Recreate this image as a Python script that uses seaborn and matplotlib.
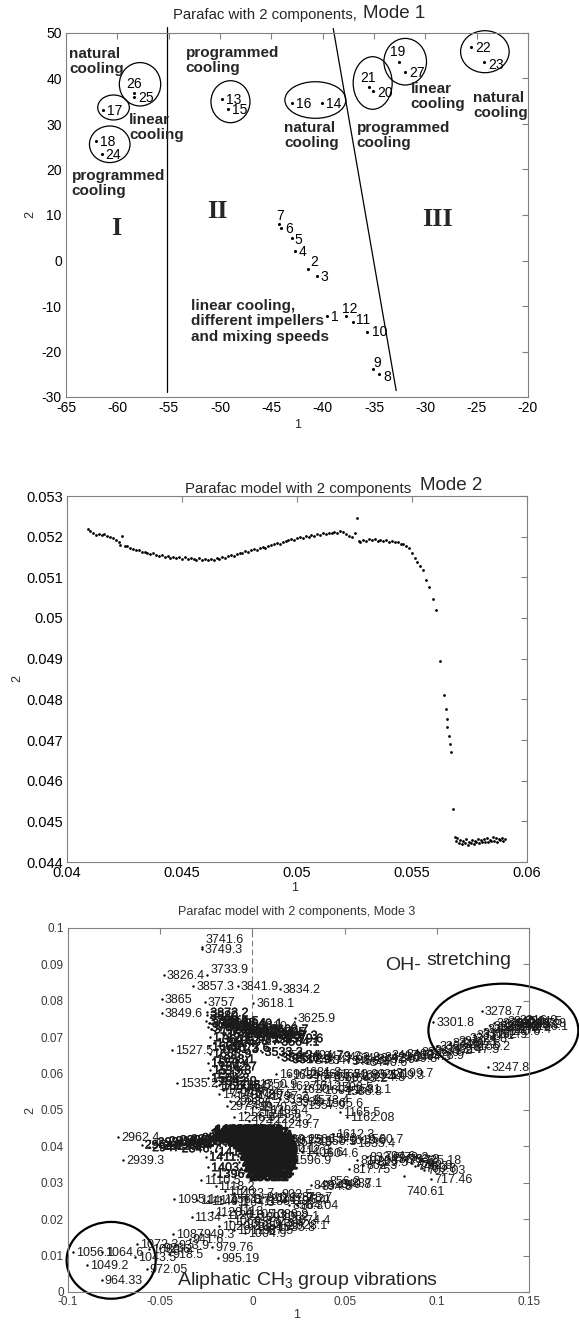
import matplotlib
matplotlib.use("Agg")
import matplotlib.pyplot as plt
import matplotlib.patheffects as pe
from matplotlib.patches import Ellipse
import seaborn as sns

# ======================= DATA =======================
# ---- Mode 1 : sample scores (component 1, component 2) ----
mode1_ids = ["1", "2", "3", "4", "5", "6", "7", "8", "9", "10", "11", "12", "13", "14",
             "15", "16", "17", "18", "19", "20", "21", "22", "23", "24", "25", "26", "27"]
mode1_x = [-39.56, -41.41, -40.59, -42.70, -42.99, -44.07, -44.21, -34.47, -35.11, -35.64,
           -37.03, -37.74, -49.78, -40.10, -49.26, -43.02, -61.40, -62.10, -32.55, -35.14,
           -35.50, -25.56, -24.27, -61.52, -58.35, -58.35, -31.96]
mode1_y = [-12.13, -1.93, -3.41, 2.15, 4.95, 7.21, 8.02, -24.95, -23.91, -15.78,
           -13.45, -12.20, 35.49, 34.68, 33.36, 34.68, 33.08, 26.33, 43.69, 37.32,
           38.07, 46.86, 43.69, 23.34, 36.00, 36.88, 41.49]
# groups circled (centre x, centre y, width, height)
mode1_grp_cx = [-57.79, -60.37, -60.74, -48.98, -40.71, -35.13, -31.96, -24.20]
mode1_grp_cy = [38.73, 33.63, 25.54, 34.90, 35.27, 39.01, 43.69, 45.89]
mode1_grp_w = [4.03, 3.08, 3.95, 3.80, 5.94, 3.80, 4.15, 4.73]
mode1_grp_h = [9.54, 5.49, 8.04, 9.23, 8.04, 11.56, 10.24, 9.23]
# region separators
sep1_x = [-55.2, -55.2]
sep1_y = [-29.0, 51.3]
sep2_x = [-38.97, -32.84]
sep2_y = [51.0, -28.6]
regions = ["I", "II", "III"]
regions_x = [-60.1, -50.25, -28.85]
regions_y = [7.1, 10.7, 9.1]
notes = ["natural\ncooling", "linear\ncooling", "programmed\ncooling", "programmed\ncooling",
         "natural\ncooling", "programmed\ncooling", "linear\ncooling", "natural\ncooling",
         "linear cooling,\ndifferent impellers\nand mixing speeds"]
notes_x = [-64.71, -58.84, -64.45, -53.35, -43.77, -36.70, -31.44, -25.34, -52.79]
notes_y = [46.92, 32.35, 20.04, 47.20, 30.73, 30.73, 39.16, 37.32, -8.53]

# ---- Mode 2 : loadings (component 1, component 2) ----
mode2_pts = [
    (0.04090, 0.05219), (0.04100, 0.05215), (0.04112, 0.05208), (0.04125, 0.05205),
    (0.04138, 0.05207), (0.04150, 0.05204), (0.04163, 0.05206), (0.04176, 0.05201),
    (0.04188, 0.05200), (0.04200, 0.05196), (0.04212, 0.05193), (0.04224, 0.05186),
    (0.04230, 0.05180), (0.04240, 0.05202), (0.04250, 0.05178), (0.04262, 0.05176),
    (0.04275, 0.05172), (0.04288, 0.05170), (0.04300, 0.05168), (0.04312, 0.05166),
    (0.04325, 0.05163), (0.04338, 0.05163), (0.04350, 0.05160), (0.04362, 0.05157),
    (0.04375, 0.05160), (0.04388, 0.05155), (0.04400, 0.05153), (0.04412, 0.05156),
    (0.04425, 0.05150), (0.04438, 0.05152), (0.04450, 0.05148), (0.04462, 0.05151),
    (0.04475, 0.05147), (0.04488, 0.05150), (0.04500, 0.05146), (0.04512, 0.05149),
    (0.04525, 0.05145), (0.04538, 0.05148), (0.04550, 0.05146), (0.04562, 0.05143),
    (0.04575, 0.05147), (0.04588, 0.05142), (0.04600, 0.05145), (0.04612, 0.05143),
    (0.04625, 0.05146), (0.04638, 0.05142), (0.04650, 0.05147), (0.04662, 0.05144),
    (0.04675, 0.05150), (0.04688, 0.05147), (0.04700, 0.05152), (0.04712, 0.05155),
    (0.04725, 0.05153), (0.04738, 0.05158), (0.04750, 0.05161), (0.04762, 0.05159),
    (0.04775, 0.05164), (0.04788, 0.05162), (0.04800, 0.05166), (0.04812, 0.05169),
    (0.04825, 0.05167), (0.04838, 0.05171), (0.04850, 0.05174), (0.04862, 0.05172),
    (0.04875, 0.05177), (0.04888, 0.05179), (0.04900, 0.05182), (0.04912, 0.05184),
    (0.04925, 0.05183), (0.04938, 0.05187), (0.04950, 0.05190), (0.04962, 0.05192),
    (0.04975, 0.05195), (0.04988, 0.05193), (0.05000, 0.05197), (0.05012, 0.05199),
    (0.05025, 0.05197), (0.05038, 0.05201), (0.05050, 0.05200), (0.05062, 0.05204),
    (0.05075, 0.05202), (0.05088, 0.05206), (0.05100, 0.05204), (0.05112, 0.05208),
    (0.05125, 0.05206), (0.05138, 0.05210), (0.05150, 0.05208), (0.05162, 0.05212),
    (0.05175, 0.05209), (0.05188, 0.05215), (0.05200, 0.05211), (0.05212, 0.05206),
    (0.05225, 0.05201), (0.05238, 0.05200), (0.05250, 0.05210), (0.05260, 0.05245),
    (0.05268, 0.05190), (0.05275, 0.05186), (0.05288, 0.05193), (0.05300, 0.05189),
    (0.05312, 0.05194), (0.05325, 0.05191), (0.05338, 0.05195), (0.05350, 0.05190),
    (0.05362, 0.05193), (0.05375, 0.05189), (0.05388, 0.05192), (0.05400, 0.05187),
    (0.05412, 0.05190), (0.05425, 0.05186), (0.05438, 0.05188), (0.05450, 0.05183),
    (0.05462, 0.05181), (0.05475, 0.05177), (0.05488, 0.05173), (0.05500, 0.05160),
    (0.05512, 0.05148), (0.05523, 0.05138), (0.05535, 0.05127), (0.05547, 0.05117),
    (0.05560, 0.05093), (0.05574, 0.05076), (0.05590, 0.05047), (0.05606, 0.05019),
    (0.05622, 0.04894), (0.05638, 0.04810), (0.05646, 0.04777), (0.05650, 0.04752),
    (0.05654, 0.04732), (0.05659, 0.04709), (0.05664, 0.04691), (0.05670, 0.04670),
    (0.05677, 0.04531), (0.05685, 0.04462), (0.05690, 0.04452), (0.05697, 0.04458),
    (0.05703, 0.04447), (0.05710, 0.04455), (0.05716, 0.04444), (0.05722, 0.04452),
    (0.05729, 0.04446), (0.05735, 0.04456), (0.05742, 0.04443), (0.05748, 0.04450),
    (0.05755, 0.04447), (0.05761, 0.04455), (0.05768, 0.04445), (0.05774, 0.04452),
    (0.05780, 0.04449), (0.05787, 0.04457), (0.05793, 0.04446), (0.05800, 0.04453),
    (0.05806, 0.04448), (0.05813, 0.04456), (0.05819, 0.04450), (0.05826, 0.04460),
    (0.05832, 0.04449), (0.05839, 0.04455), (0.05845, 0.04451), (0.05852, 0.04462),
    (0.05858, 0.04452), (0.05865, 0.04458), (0.05871, 0.04450), (0.05878, 0.04457),
    (0.05884, 0.04453), (0.05890, 0.04459), (0.05897, 0.04451), (0.05903, 0.04456),
]

# ---- Mode 3 : spectral loadings labelled with wavenumber ----
m3_isolated = [
    ("3741.6", -0.0274, 0.0947), ("3749.3", -0.0276, 0.0941), ("3826.4", -0.0482, 0.0872),
    ("3733.9", -0.0245, 0.0870), ("3857.3", -0.0320, 0.0842), ("3841.9", -0.0078, 0.0842),
    ("3834.2", 0.0150, 0.0833), ("3865", -0.0490, 0.0806), ("3757", -0.0257, 0.0796),
    ("3618.1", 0.0004, 0.0795), ("3849.6", -0.0490, 0.0766), ("3625.9", 0.0231, 0.0754),
    ("3610.4", 0.0025, 0.0732), ("1527.5", -0.0436, 0.0664), ("1535.2", -0.0409, 0.0573),
    ("3301.8", 0.0980, 0.0741), ("3278.7", 0.1245, 0.0773), ("3247.8", 0.1278, 0.0617),
    ("2962.4", -0.0729, 0.0426), ("2939.3", -0.0702, 0.0362), ("1095.1", -0.0424, 0.0256),
    ("1134", -0.0330, 0.0206), ("1087", -0.0432, 0.0160), ("1072.3", -0.0628, 0.0131),
    ("1056.1", -0.0973, 0.0110), ("1064.6", -0.0816, 0.0110), ("1049.2", -0.0895, 0.0075),
    ("964.33", -0.0817, 0.0032), ("972.05", -0.0573, 0.0064), ("1043.5", -0.0636, 0.0095),
    ("995.19", -0.0187, 0.0093), ("979.76", -0.0219, 0.0123), ("1612.3", 0.0439, 0.0435),
    ("1560.7", 0.0594, 0.0421), ("1581.5", 0.0161, 0.0417), ("1604.6", 0.0350, 0.0381),
    ("1596.9", 0.0204, 0.0362), ("817.75", 0.0526, 0.0339), ("810.03", 0.0569, 0.0362),
    ("725.18", 0.0909, 0.0362), ("702.03", 0.0930, 0.0336), ("717.46", 0.0969, 0.0310),
    ("740.61", 0.0822, 0.0318), ("848.45", 0.0316, 0.0293), ("864.04", 0.0242, 0.0238),
    ("1165.5", 0.0475, 0.0494), ("1162.08", 0.0511, 0.0480),
]
m3_oh_dense = [
    ("3872.2", -0.0245, 0.0768), ("3880", -0.0245, 0.0760), ("3795.4", -0.0250, 0.0745),
    ("3788", -0.0235, 0.0738), ("3764.8", -0.0240, 0.0728), ("3772.5", -0.0225, 0.0722),
    ("3703.1", -0.0200, 0.0735), ("3718.5", -0.0190, 0.0745), ("3695.4", -0.0150, 0.0740),
    ("3680", -0.0130, 0.0728), ("3687.7", -0.0100, 0.0716), ("3664.5", -0.0080, 0.0722),
    ("3656.8", -0.0050, 0.0712), ("3672.2", -0.0160, 0.0710), ("3649.1", -0.0060, 0.0738),
    ("3641.4", 0.0000, 0.0715), ("3633.6", 0.0060, 0.0708), ("3602.7", 0.0080, 0.0722),
    ("3595", 0.0120, 0.0715), ("3587.3", 0.0130, 0.0705), ("3579.6", 0.0160, 0.0697),
    ("3571.8", -0.0020, 0.0700), ("3564.1", 0.0140, 0.0688), ("3556.4", 0.0050, 0.0695),
    ("3548.7", -0.0080, 0.0690), ("3541", -0.0180, 0.0695), ("1712.1", -0.0230, 0.0700),
    ("1704.4", -0.0210, 0.0685), ("1689", -0.0235, 0.0675), ("1681.3", -0.0190, 0.0668),
    ("1673.6", -0.0130, 0.0672), ("1665.9", -0.0230, 0.0655), ("1658.1", -0.0210, 0.0640),
    ("1650.4", -0.0240, 0.0630), ("1642.7", -0.0200, 0.0620), ("1519.8", -0.0230, 0.0610),
    ("1512", -0.0215, 0.0598), ("1504.3", -0.0240, 0.0588), ("1542.9", -0.0200, 0.0580),
    ("1550.6", -0.0180, 0.0568), ("3533.3", 0.0050, 0.0660), ("3525.6", 0.0140, 0.0645),
    ("3517.9", 0.0200, 0.0640),
]
m3_oh_band = [
    ("3510.1", 0.016, 0.0650), ("3502.4", 0.022, 0.0642), ("3494.7", 0.027, 0.0652),
    ("3487", 0.032, 0.0638), ("3479.2", 0.037, 0.0648), ("3471.5", 0.042, 0.0636),
    ("3463.8", 0.047, 0.0645), ("3456.1", 0.052, 0.0634), ("3448.4", 0.057, 0.0642),
    ("3440.6", 0.062, 0.0632), ("3432.9", 0.066, 0.0640), ("3425.2", 0.070, 0.0645),
    ("3417.5", 0.074, 0.0650), ("3409.8", 0.078, 0.0643), ("3402", 0.082, 0.0655),
    ("3394.3", 0.086, 0.0648), ("3386.6", 0.090, 0.0660), ("3378.9", 0.093, 0.0652),
    ("3371.2", 0.097, 0.0665), ("3363.4", 0.100, 0.0675), ("3355.7", 0.103, 0.0668),
    ("3348", 0.107, 0.0683), ("3340.3", 0.110, 0.0690), ("3332.6", 0.113, 0.0680),
    ("3324.8", 0.116, 0.0698), ("3317.1", 0.120, 0.0705), ("3309.4", 0.123, 0.0712),
    ("3294.1", 0.126, 0.0722), ("3286.4", 0.129, 0.0730), ("3270.9", 0.131, 0.0738),
    ("3263.2", 0.133, 0.0727), ("3255.5", 0.135, 0.0735), ("3240.1", 0.137, 0.0744),
    ("3232.4", 0.139, 0.0731), ("3224.7", 0.141, 0.0740), ("3216.9", 0.143, 0.0748),
    ("3209.2", 0.145, 0.0735), ("3201.5", 0.146, 0.0745), ("3193.8", 0.148, 0.0738),
    ("3186.1", 0.149, 0.0730), ("3178.4", 0.140, 0.0722), ("3170.6", 0.134, 0.0716),
    ("3162.9", 0.127, 0.0708), ("3155.2", 0.118, 0.0675), ("3147.5", 0.112, 0.0668),
]
m3_mid_rows = [
    ("1697.2", 0.013, 0.0600), ("1689.5", 0.020, 0.0596), ("1681.8", 0.026, 0.0604),
    ("1674.1", 0.031, 0.0592), ("1666.3", 0.036, 0.0600), ("1658.6", 0.041, 0.0590),
    ("1650.9", 0.046, 0.0598), ("1643.2", 0.051, 0.0588), ("1635.5", 0.056, 0.0595),
    ("3224.8", 0.061, 0.0592), ("3217", 0.066, 0.0600), ("3209.3", 0.071, 0.0595),
    ("3199.7", 0.076, 0.0602), ("1627.7", 0.018, 0.0565), ("1620", 0.025, 0.0558),
    ("1612.4", 0.031, 0.0566), ("1604.2", 0.037, 0.0556), ("1596.5", 0.043, 0.0562),
    ("1588.8", 0.048, 0.0552), ("1581.1", 0.053, 0.0558), ("3330.4", 0.015, 0.0530),
    ("3338.1", 0.022, 0.0522), ("1573.4", 0.030, 0.0528), ("1565.6", 0.038, 0.0520),
    ("1557.9", 0.028, 0.0515),
]
m3_upper_fp = [
    ("1727.8", -0.020, 0.0565), ("1735.5", -0.012, 0.0570), ("1743.2", -0.005, 0.0565),
    ("1750.9", 0.002, 0.0572), ("1758.6", -0.016, 0.0555), ("1766.4", -0.008, 0.0550),
    ("1774.1", -0.018, 0.0545), ("1781.8", -0.010, 0.0540), ("1789.5", 0.000, 0.0545),
    ("1797.2", 0.008, 0.0538), ("2993.4", -0.012, 0.0525), ("2985.7", -0.006, 0.0518),
    ("2977.9", -0.014, 0.0510), ("2970.2", 0.002, 0.0508), ("1203.4", 0.008, 0.0500),
    ("1211.1", -0.004, 0.0495), ("1218.8", 0.004, 0.0488), ("1226.5", -0.010, 0.0482),
    ("1234.2", 0.010, 0.0475), ("1242", -0.002, 0.0470), ("1249.7", 0.014, 0.0462),
]
m3_core = [
    ("1473.6", -0.022, 0.0445), ("1465.9", -0.018, 0.0445), ("1458.2", -0.014, 0.0445),
    ("1450.5", -0.010, 0.0445), ("1442.8", -0.006, 0.0445),
    ("1435.1", -0.023, 0.0438), ("1427.4", -0.019, 0.0438), ("1388.8", -0.015, 0.0438),
    ("1381.1", -0.011, 0.0438), ("1373.4", -0.007, 0.0438), ("1365.7", -0.003, 0.0438),
    ("1358", -0.021, 0.0430), ("1350.3", -0.017, 0.0430), ("1342.5", -0.013, 0.0430),
    ("1334.8", -0.009, 0.0430), ("1327.1", -0.005, 0.0430), ("1319.4", -0.001, 0.0430),
    ("1311.7", -0.020, 0.0422), ("1303.9", -0.016, 0.0422), ("1296.2", -0.012, 0.0422),
    ("1288.5", -0.008, 0.0422), ("1280.8", -0.004, 0.0422), ("1273.1", 0.000, 0.0422),
    ("1265.3", -0.015, 0.0414), ("1257.6", -0.011, 0.0414), ("2839", -0.007, 0.0414),
    ("2831.2", -0.003, 0.0414), ("2823.5", 0.001, 0.0414),
    ("2815.8", -0.012, 0.0406), ("2808.1", -0.008, 0.0406), ("2800.4", -0.004, 0.0406),
    ("2792.6", 0.000, 0.0406),
    ("2784.9", -0.010, 0.0398), ("2777.2", -0.006, 0.0398), ("2769.5", -0.002, 0.0398),
    ("2761.8", 0.001, 0.0398),
    ("2754.1", -0.008, 0.0390), ("2746.3", -0.005, 0.0390), ("2738.6", -0.001, 0.0390),
    ("2730.9", 0.002, 0.0390),
    ("2723.2", -0.007, 0.0382), ("2715.5", -0.003, 0.0382), ("2707.7", 0.001, 0.0382),
    ("2700", -0.008, 0.0374), ("2692.3", -0.004, 0.0374), ("2684.6", 0.000, 0.0374),
    ("2676.9", -0.006, 0.0366), ("2669.1", -0.002, 0.0366), ("2661.4", 0.002, 0.0366),
    ("2653.7", -0.007, 0.0358), ("2646", -0.003, 0.0358), ("2638.3", 0.001, 0.0358),
    ("2630.6", -0.005, 0.0350), ("2622.8", -0.001, 0.0350), ("2615.1", 0.002, 0.0350),
    ("2607.4", -0.006, 0.0342), ("2599.7", -0.002, 0.0342),
    ("2592", -0.004, 0.0334), ("2584.2", 0.000, 0.0334),
    ("2576.5", -0.005, 0.0326), ("2568.8", -0.001, 0.0326),
    ("2561.1", -0.003, 0.0318),
]
m3_ch_tail = [
    ("2954.7", -0.060, 0.0405), ("2947", -0.056, 0.0398), ("2931.6", -0.053, 0.0412),
    ("2923.8", -0.050, 0.0402), ("2916.1", -0.047, 0.0415), ("2908.4", -0.044, 0.0405),
    ("2900.7", -0.041, 0.0418), ("2893", -0.038, 0.0408), ("2885.2", -0.035, 0.0420),
    ("2877.5", -0.032, 0.0410), ("2869.8", -0.029, 0.0424), ("2862.1", -0.026, 0.0414),
    ("2854.4", -0.024, 0.0428), ("2846.7", -0.040, 0.0395), ("1419.1", -0.020, 0.0386),
    ("1411.4", -0.025, 0.0372), ("1403.7", -0.024, 0.0343), ("1396", -0.021, 0.0325),
]
m3_low_fp = [
    ("1110.5", -0.028, 0.0307), ("1118.2", -0.020, 0.0290), ("1126", -0.015, 0.0278),
    ("1133.7", -0.010, 0.0272), ("1141.4", -0.030, 0.0253), ("1149.1", -0.024, 0.0250),
    ("1156.8", -0.017, 0.0255), ("1164.5", -0.010, 0.0248), ("1172.2", -0.003, 0.0256),
    ("1180", 0.004, 0.0250), ("1187.7", 0.011, 0.0258), ("1195.4", 0.018, 0.0252),
    ("878.7", 0.025, 0.0260), ("871", 0.030, 0.0255), ("856.3", 0.020, 0.0240),
    ("1128.4", -0.022, 0.0220), ("1120.6", -0.016, 0.0212), ("1113", -0.010, 0.0222),
    ("1105.3", -0.004, 0.0214), ("1097.5", 0.002, 0.0205), ("1089.8", 0.008, 0.0215),
    ("1082.1", 0.014, 0.0208), ("1074.4", 0.020, 0.0198), ("1066.7", -0.012, 0.0195),
    ("1058.9", -0.006, 0.0188), ("1051.2", 0.000, 0.0182), ("1043.4", 0.006, 0.0190),
    ("1035.8", 0.012, 0.0178), ("1028.1", 0.018, 0.0185), ("1020.3", -0.018, 0.0180),
    ("1012.6", -0.010, 0.0170), ("1004.9", -0.004, 0.0162), ("987.5", 0.004, 0.0170),
    ("949.3", -0.028, 0.0160), ("941.6", -0.034, 0.0145), ("933.9", -0.042, 0.0130),
    ("926.2", -0.050, 0.0120), ("918.5", -0.045, 0.0105), ("1080.6", -0.056, 0.0118),
]
m3_right_branch = [
    ("1589.2", 0.012, 0.0420), ("1573.8", 0.021, 0.0412), ("1566.1", 0.028, 0.0420),
    ("1550.5", 0.034, 0.0414), ("1543", 0.040, 0.0422), ("1619.9", 0.050, 0.0418),
    ("1635.4", 0.055, 0.0410), ("1620.1", 0.012, 0.0395), ("1412.3", 0.020, 0.0390),
    ("1404.6", 0.027, 0.0385), ("833.2", 0.062, 0.0370), ("825.5", 0.066, 0.0358),
    ("794.6", 0.070, 0.0375), ("786.9", 0.074, 0.0366), ("779.2", 0.077, 0.0372),
    ("771.5", 0.080, 0.0360), ("763.8", 0.083, 0.0366), ("756", 0.086, 0.0355),
    ("748.3", 0.088, 0.0345), ("732.9", 0.090, 0.0350), ("709.8", 0.092, 0.0340),
    ("802.3", 0.060, 0.0350), ("856.2", 0.040, 0.0305), ("840.8", 0.046, 0.0298),
    ("894.8", 0.036, 0.0290), ("887.1", 0.052, 0.0300), ("910.2", 0.006, 0.0262),
    ("902.5", 0.014, 0.0270),
]
# label groups, with how heavily the overlapping labels print (stroke width)
m3_groups = [(m3_isolated, 0.0), (m3_oh_dense, 0.25), (m3_oh_band, 0.0), (m3_mid_rows, 0.0),
             (m3_upper_fp, 0.0), (m3_core, 1.6), (m3_ch_tail, 0.25), (m3_low_fp, 0.0),
             (m3_right_branch, 0.0)]
# circled spectral regions (centre x, centre y, width, height)
m3_ell_cx = [0.1361, -0.0766]
m3_ell_cy = [0.0719, 0.0087]
m3_ell_w = [0.0813, 0.0483]
m3_ell_h = [0.0256, 0.0211]
m3_zero_x = [0.0, 0.0]
m3_zero_y = [0.0755, 0.1]

# tick labels
m1_xticks = [-65, -60, -55, -50, -45, -40, -35, -30, -25, -20]
m1_yticks = [-30, -20, -10, 0, 10, 20, 30, 40, 50]
m2_xticks = [0.04, 0.045, 0.05, 0.055, 0.06]
m2_xtlbl = ["0.04", "0.045", "0.05", "0.055", "0.06"]
m2_yticks = [0.044, 0.045, 0.046, 0.047, 0.048, 0.049, 0.05, 0.051, 0.052, 0.053]
m2_ytlbl = ["0.044", "0.045", "0.046", "0.047", "0.048", "0.049", "0.05", "0.051", "0.052", "0.053"]
m3_xticks = [-0.1, -0.05, 0, 0.05, 0.1, 0.15]
m3_xtlbl = ["-0.1", "-0.05", "0", "0.05", "0.1", "0.15"]
m3_yticks = [0, 0.01, 0.02, 0.03, 0.04, 0.05, 0.06, 0.07, 0.08, 0.09, 0.1]
m3_ytlbl = ["0", "0.01", "0.02", "0.03", "0.04", "0.05", "0.06", "0.07", "0.08", "0.09", "0.1"]

# ======================= STYLE / LAYOUT =======================
sns.set_style("white")
plt.rcParams['font.family'] = ['Liberation Sans', 'DejaVu Sans']
plt.rcParams['axes.unicode_minus'] = False
plt.rcParams['mathtext.fontset'] = 'custom'
plt.rcParams['mathtext.rm'] = 'Liberation Sans'

W, H = 579, 1322
fig = plt.figure(figsize=(W / 100, H / 100), dpi=100)
fig.patch.set_facecolor('white')

def px_axes(l, t, r, b):
    return fig.add_axes([l / W, 1 - b / H, (r - l) / W, (b - t) / H])

def ftext(px, py, s, **kw):
    fig.text(px / W, 1 - py / H, s, **kw)

def style_axes(ax, size, lblcolor):
    for s in ax.spines.values():
        s.set_visible(True)
        s.set_color('#808080')
        s.set_linewidth(0.8)
    ax.tick_params(direction='in', top=True, right=True, length=4, width=0.8,
                   color='#808080', labelcolor=lblcolor, labelsize=size, pad=3)
    ax.set_xlabel('')
    ax.set_ylabel('')

# ----------------------- Mode 1 -----------------------
ax1 = px_axes(66, 33, 528, 397)
sns.scatterplot(x=mode1_x, y=mode1_y, ax=ax1, color='black', s=5, linewidth=0, legend=False)
ax1.set_xlim(-65, -20)
ax1.set_ylim(-30, 50)
ax1.set_xticks(m1_xticks)
ax1.set_yticks(m1_yticks)
style_axes(ax1, 10, 'black')

m1_off = {'26': (-8, 9), '21': (-9, 9), '19': (-9, 10), '7': (-3, 8), '2': (2, 7.5),
          '12': (-4, 7), '9': (1, 6.5), '11': (3, 2), '5': (2, -2), '10': (5, 0),
          '23': (4, -3), '20': (4.5, -2.5), '8': (3.5, -2.5)}
for lbl, x, y in zip(mode1_ids, mode1_x, mode1_y):
    dx, dy = m1_off.get(lbl, (4, -1))
    ax1.annotate(lbl, (x, y), xytext=(dx, dy), textcoords='offset pixels',
                 ha='left', va='center', fontsize=10, color='black')
for cx, cy, w, h in zip(mode1_grp_cx, mode1_grp_cy, mode1_grp_w, mode1_grp_h):
    ax1.add_patch(Ellipse((cx, cy), w, h, fill=False, ec='black', lw=0.9, clip_on=False))
ax1.plot(sep1_x, sep1_y, color='black', lw=0.9, clip_on=False)
ax1.plot(sep2_x, sep2_y, color='black', lw=0.9, clip_on=False)
for s, x, y in zip(regions, regions_x, regions_y):
    ax1.text(x, y, s, ha='center', va='center', fontsize=19, fontweight='bold',
             family=['Liberation Serif', 'DejaVu Serif'])
for s, x, y in zip(notes, notes_x, notes_y):
    ax1.text(x, y, s, ha='left', va='top', fontsize=11, fontweight='bold', linespacing=1.1)
ftext(173, 15, "Parafac with 2 components,", fontsize=10.7, va='center', ha='left')
ftext(363, 14, "Mode 1", fontsize=13.5, va='center', ha='left')
ftext(298, 425, "1", fontsize=9, va='center', ha='center')
ftext(30, 215, "2", fontsize=9, va='center', ha='center', rotation=90)

# ----------------------- Mode 2 -----------------------
ax2 = px_axes(67, 496, 527, 862)
m2x = [p[0] for p in mode2_pts]
m2y = [p[1] for p in mode2_pts]
sns.scatterplot(x=m2x, y=m2y, ax=ax2, color='black', s=4, linewidth=0, legend=False)
ax2.set_xlim(0.04, 0.06)
ax2.set_ylim(0.044, 0.053)
ax2.set_xticks(m2_xticks)
ax2.set_xticklabels(m2_xtlbl)
ax2.set_yticks(m2_yticks)
ax2.set_yticklabels(m2_ytlbl)
style_axes(ax2, 10.5, 'black')
ftext(185, 489, "Parafac model with 2 components", fontsize=10.8, va='center', ha='left')
ftext(420, 486, "Mode 2", fontsize=13.5, va='center', ha='left')
ftext(295, 888, "1", fontsize=9, va='center', ha='center')
ftext(17, 678, "2", fontsize=9, va='center', ha='center', rotation=90)

# ----------------------- Mode 3 -----------------------
ax3 = px_axes(68, 928, 529, 1292)
m3_all = [p for g, _ in m3_groups for p in g]
m3x = [p[1] for p in m3_all]
m3y = [p[2] for p in m3_all]
sns.scatterplot(x=m3x, y=m3y, ax=ax3, color='black', s=3, linewidth=0, legend=False)
ax3.set_xlim(-0.1, 0.15)
ax3.set_ylim(0, 0.1)
ax3.set_xticks(m3_xticks)
ax3.set_xticklabels(m3_xtlbl)
ax3.set_yticks(m3_yticks)
ax3.set_yticklabels(m3_ytlbl)
style_axes(ax3, 8.5, '#383838')
m3_off = {'3741.6': (4, 7), '3733.9': (3, 5), '740.61': (2, -16)}
for grp, stroke in m3_groups:
    effects = [pe.withStroke(linewidth=stroke, foreground='#1a1a1a')] if stroke > 0 else None
    for lbl, x, y in grp:
        dx, dy = m3_off.get(lbl, (3, -1))
        ax3.annotate(lbl, (x, y), xytext=(dx, dy), textcoords='offset pixels',
                     ha='left', va='center', fontsize=9, color='#1a1a1a',
                     path_effects=effects)
ax3.plot(m3_zero_x, m3_zero_y, color='#808080', lw=0.8, ls=(0, (5, 3)))
for cx, cy, w, h in zip(m3_ell_cx, m3_ell_cy, m3_ell_w, m3_ell_h):
    ax3.add_patch(Ellipse((cx, cy), w, h, fill=False, ec='black', lw=1.6, clip_on=False))
ax3.text(0.0719, 0.0898, "OH-", fontsize=14, ha='left', va='center')
ax3.text(0.0941, 0.0911, "stretching", fontsize=14, ha='left', va='center')
ax3.text(-0.0411, 0.0032, r"Aliphatic CH$\mathregular{_3}$ group vibrations", fontsize=14,
         ha='left', va='center')
ftext(178, 912, "Parafac model with 2 components, Mode 3", fontsize=9, va='center',
      ha='left', color='#333333')
ftext(297, 1315, "1", fontsize=9, va='center', ha='center', color='#333333')
ftext(30, 1111, "2", fontsize=9, va='center', ha='center', rotation=90, color='#333333')

fig.savefig("out.png", dpi=100, facecolor='white')
